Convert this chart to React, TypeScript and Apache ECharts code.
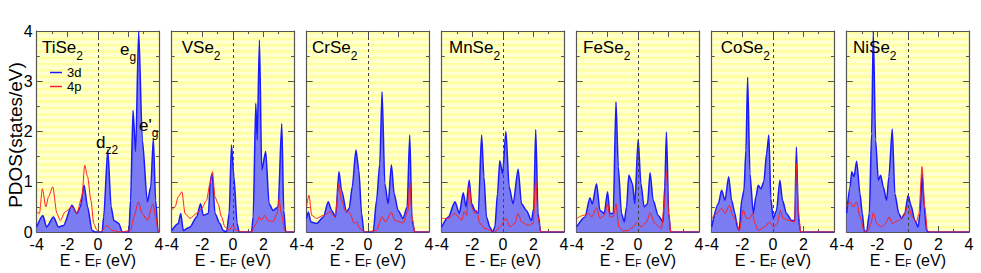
import React, { useEffect, useRef } from "react";
import * as echarts from "echarts";

const compounds = ["TiSe", "VSe", "CrSe", "MnSe", "FeSe", "CoSe", "NiSe"];
const xTicks = [-4, -2, 0, 2, 4];
const yTicks = [0, 1, 2, 3, 4];

const ti3d = [[-4,0.1],[-3.6,0.33],[-3.35,0.1],[-2.9,0.3],[-2.57,0.1],[-2.25,0.13],[-1.7,0.53],[-1.37,0.37],[-1.15,0.5],[-0.9,0.93],[-0.67,0.5],[-0.38,0.03],[-0.16,0],[0.28,0],[0.38,0.3],[0.65,1.63],[0.87,0.5],[1.05,0.23],[1.37,0.17],[1.6,0],[2.03,0],[2.14,0.63],[2.3,2.42],[2.47,1.6],[2.67,4.0],[2.91,1.83],[3.24,0.6],[3.46,0.9],[3.63,1.86],[3.78,0.63],[3.94,0],[4,0]];
const ti4p = [[-4,0.4],[-3.82,0.37],[-3.63,0.86],[-3.4,0.5],[-3.23,0.7],[-2.95,0.9],[-2.68,0.37],[-2.46,0.23],[-2.14,0.4],[-1.7,0.5],[-1.37,0.37],[-1.04,0.7],[-0.86,1.33],[-0.67,1.1],[-0.45,0.63],[-0.27,0.17],[-0.05,0.03],[0.17,0],[0.6,0.13],[0.93,0.03],[1.48,0],[2.14,0.03],[2.36,0.3],[2.65,0.6],[2.9,0.37],[3.24,0.23],[3.6,0.56],[3.78,0.3],[3.94,0.03],[4,0]];
const v3d = [[-4,0.03],[-3.57,0.17],[-3.41,0.37],[-3.24,0.03],[-2.8,0.1],[-2.37,0.3],[-2.11,0.56],[-1.93,0.33],[-1.6,0.37],[-1.46,1.06],[-1.35,1.16],[-1.17,0.37],[-0.85,0.17],[-0.63,0.03],[-0.41,0],[-0.24,0.37],[-0.09,1.73],[0.07,1.1],[0.28,0.17],[0.41,0],[1.22,0],[1.33,0.3],[1.5,2.56],[1.59,1.83],[1.74,3.82],[1.89,1.23],[2.15,1.6],[2.37,0.56],[2.63,0.43],[2.96,0.5],[3.2,2.16],[3.33,0.43],[3.46,0],[4,0]];
const v4p = [[-4,0.43],[-3.78,0.5],[-3.57,0.7],[-3.33,0.8],[-3.13,0.37],[-2.8,0.27],[-2.37,0.37],[-2.04,0.47],[-1.72,0.63],[-1.5,0.96],[-1.33,1.2],[-1.17,0.7],[-0.96,0.56],[-0.74,0.3],[-0.52,0.1],[-0.24,0.03],[-0.02,0.13],[0.24,0.03],[0.67,0],[1.22,0],[1.54,0.17],[1.72,0.3],[1.87,0.23],[2.09,0.33],[2.3,0.23],[2.63,0.2],[2.9,0.37],[3.02,0.66],[3.17,0.37],[3.39,0.03],[3.5,0],[4,0]];
const cr3d = [[-4,0.27],[-3.89,0.4],[-3.72,0.2],[-3.35,0.17],[-2.91,0.3],[-2.59,0.6],[-2.37,0.43],[-2.11,0.3],[-1.89,1.2],[-1.72,0.83],[-1.39,0.4],[-1.22,0.47],[-1.02,0.9],[-0.78,1.63],[-0.59,1.23],[-0.41,0.37],[-0.26,0],[0.35,0],[0.57,0.63],[0.78,1.36],[0.93,2.79],[1.11,0.96],[1.33,0.56],[1.54,1.34],[1.72,0.76],[1.98,0.43],[2.3,0.27],[2.57,0.5],[2.74,1.93],[2.89,0.23],[3.07,0],[4,0]];
const cr4p = [[-4,0.53],[-3.85,0.73],[-3.67,0.33],[-3.35,0.27],[-2.91,0.33],[-2.48,0.4],[-2.15,0.3],[-1.89,0.96],[-1.72,0.63],[-1.5,0.43],[-1.17,0.37],[-0.89,0.17],[-0.74,0.2],[-0.52,0.07],[-0.2,0],[0.57,0.03],[0.93,0.31],[1.15,0.2],[1.54,0.39],[1.76,0.23],[2.3,0.18],[2.63,0.43],[2.74,0.98],[2.89,0.3],[3.07,0],[4,0]];
const mn3d = [[-4,0.1],[-3.57,0.3],[-3.13,0.6],[-2.85,0.37],[-2.59,0.78],[-2.41,0.5],[-2.2,1.03],[-2.04,0.56],[-1.83,0.43],[-1.61,0.37],[-1.39,1.93],[-1.24,1.1],[-1.07,0.3],[-0.85,0.1],[-0.67,0],[-0.52,0.1],[-0.35,0.76],[-0.2,1.42],[-0.02,1.16],[0.2,2.0],[0.41,0.9],[0.67,0.56],[1.0,1.25],[1.22,0.56],[1.54,0.43],[1.87,0.23],[2.02,0.47],[2.15,2.04],[2.3,0.37],[2.48,0],[4,0]];
const mn4p = [[-4,0.27],[-3.57,0.27],[-3.13,0.37],[-2.91,0.3],[-2.7,0.23],[-2.52,0.41],[-2.37,0.33],[-2.2,0.9],[-2.04,0.5],[-1.83,0.37],[-1.72,0.43],[-1.5,0.17],[-1.17,0.07],[-0.74,0.03],[-0.52,0],[-0.2,0.1],[0.2,0.27],[0.46,0.1],[0.78,0.17],[1.0,0.37],[1.22,0.2],[1.65,0.13],[1.98,0.17],[2.15,1.03],[2.3,0.3],[2.48,0],[4,0]];
const fe3d = [[-4,0.1],[-3.46,0.3],[-3.13,0.68],[-2.98,0.56],[-2.7,0.96],[-2.48,0.43],[-2.2,0.37],[-1.98,0.8],[-1.83,0.37],[-1.61,0.37],[-1.43,2.59],[-1.28,1.3],[-1.07,0.37],[-0.89,0.2],[-0.74,0.5],[-0.59,1.13],[-0.35,0.96],[-0.2,0.56],[0.02,1.84],[0.2,0.96],[0.41,0.5],[0.63,0.56],[0.8,1.18],[1.0,0.63],[1.33,0.33],[1.65,0.2],[1.76,0.9],[1.87,1.99],[2.02,0.37],[2.15,0],[4,0]];
const fe4p = [[-4,0.27],[-3.57,0.33],[-3.24,0.37],[-3.02,0.3],[-2.7,0.48],[-2.48,0.27],[-2.2,0.33],[-1.98,0.56],[-1.83,0.3],[-1.61,0.3],[-1.43,0.56],[-1.24,0.1],[-0.96,0.02],[-0.63,0.03],[-0.3,0.1],[-0.02,0.2],[0.2,0.1],[0.57,0.2],[0.8,0.38],[1.11,0.17],[1.54,0.07],[1.72,0.5],[1.87,1.2],[2.02,0.37],[2.15,0],[4,0]];
const co3d = [[-4,0.1],[-3.57,0.56],[-3.35,0.83],[-3.13,0.63],[-2.89,1.1],[-2.7,0.63],[-2.48,0.37],[-2.33,0.1],[-2.2,0.03],[-2.04,0.63],[-1.89,0.83],[-1.76,1.63],[-1.65,3.08],[-1.5,1.16],[-1.28,0.37],[-1.11,0.7],[-0.96,0.93],[-0.78,0.86],[-0.59,1.0],[-0.41,1.56],[-0.26,1.93],[-0.13,0.66],[0.02,0.27],[0.24,0.43],[0.46,1.03],[0.63,0.63],[0.89,0.37],[1.22,0.23],[1.43,0.23],[1.54,1.69],[1.67,0.27],[1.82,0],[4,0]];
const co4p = [[-4,0.27],[-3.67,0.37],[-3.35,0.47],[-3.13,0.37],[-2.85,0.53],[-2.63,0.33],[-2.37,0.2],[-2.2,0.03],[-1.93,0.43],[-1.72,0.27],[-1.5,0.27],[-1.33,0.37],[-1.17,0.17],[-0.96,0.03],[-0.52,0.1],[-0.24,0.2],[0.07,0.1],[0.28,0.17],[0.5,0.43],[0.67,0.27],[1.0,0.23],[1.43,0.2],[1.54,1.36],[1.67,0.43],[1.82,0],[4,0]];
const ni3d = [[-4,0.37],[-3.78,0.9],[-3.67,1.2],[-3.52,1.1],[-3.35,1.41],[-3.13,0.76],[-2.98,0.37],[-2.85,0.03],[-2.7,0],[-2.52,0.37],[-2.37,1.96],[-2.26,4.0],[-2.11,1.83],[-1.93,1.03],[-1.78,1.13],[-1.61,0.9],[-1.39,0.63],[-1.24,1.1],[-1.02,2.05],[-0.85,0.76],[-0.59,0.37],[-0.41,0.27],[-0.2,0.37],[0.02,0.73],[0.2,0.53],[0.46,0.23],[0.67,0.1],[0.8,0.37],[0.93,1.16],[1.07,0.5],[1.22,0.03],[1.33,0],[4,0]];
const ni4p = [[-4,0.5],[-3.78,0.6],[-3.57,0.5],[-3.35,0.6],[-3.13,0.3],[-2.85,0],[-2.59,0.03],[-2.41,0.17],[-2.26,0.38],[-2.04,0.17],[-1.72,0.1],[-1.46,0.17],[-1.22,0.3],[-1.02,0.17],[-0.63,0.23],[-0.3,0.3],[0.02,0.53],[0.28,0.3],[0.57,0.2],[0.72,0.37],[0.93,1.3],[1.11,0.5],[1.28,0.03],[1.43,0],[4,0]];

const pdos3d = [ti3d, v3d, cr3d, mn3d, fe3d, co3d, ni3d];
const pdos4p = [ti4p, v4p, cr4p, mn4p, fe4p, co4p, ni4p];

const FONT = "Liberation Sans, Arial, sans-serif";
const AXIS_COLOR = "#555";

export default function App() {
  const ref = useRef<HTMLDivElement>(null);
  useEffect(() => {
    if (!ref.current) return;
    const chart = echarts.init(ref.current, undefined, { renderer: "svg" });
    const n = compounds.length;
    const lefts = compounds.map((_, i) => 36.7 + 135 * i);
    const grids = lefts.map((l) => ({ left: l, top: 31, width: 122.3, height: 201, containLabel: false, outerBoundsMode: "none" }));
    const xAxes: any[] = [];
    const yAxes: any[] = [];
    const series: any[] = [];
    const graphics: any[] = [];
    const titleOffsets = [5.3, 10, 5.3, 7.3, 6.3, 9, 6.3];
    for (let i = 0; i < n; i++) {
      const tick = { show: true, inside: true, length: 6, lineStyle: { color: AXIS_COLOR } };
      const minor = { show: true, splitNumber: 2, length: 3, lineStyle: { color: AXIS_COLOR } };
      xAxes.push({
        type: "value", gridIndex: i, min: xTicks[0], max: xTicks[xTicks.length - 1], interval: 2,
        position: "bottom",
        axisLine: { show: true, onZero: false, lineStyle: { color: AXIS_COLOR, width: 1.2 } },
        axisTick: tick, minorTick: minor, splitLine: { show: false },
        axisLabel: { show: true, color: "#000", fontSize: 16, lineHeight: 14, fontFamily: FONT, margin: 5, showMinLabel: true, showMaxLabel: true },
        name: "{n|E - E}{s|F}{n| (eV)}", nameLocation: "middle", nameGap: 20, nameMoveOverlap: false,
        nameTextStyle: {
          color: "#000", fontFamily: FONT,
          rich: {
            n: { fontSize: 16, lineHeight: 16, fontFamily: FONT, color: "#000" },
            s: { fontSize: 10, lineHeight: 4, verticalAlign: "bottom", fontFamily: FONT, color: "#000" },
          },
        },
      });
      xAxes.push({
        type: "value", gridIndex: i, min: -4, max: 4, interval: 2, position: "top",
        axisLine: { show: true, onZero: false, lineStyle: { color: AXIS_COLOR, width: 1.2 } },
        axisTick: tick, minorTick: minor, splitLine: { show: false }, axisLabel: { show: false },
      });
      yAxes.push({
        type: "value", gridIndex: i, min: 0, max: 4, interval: 1, position: "left",
        axisLine: { show: true, onZero: false, lineStyle: { color: AXIS_COLOR, width: 1.2 } },
        axisTick: tick, minorTick: minor, splitLine: { show: false },
        axisLabel: { show: i === 0, color: "#000", fontSize: 16, lineHeight: 10, fontFamily: FONT, margin: 4 },
      });
      yAxes.push({
        type: "value", gridIndex: i, min: 0, max: 4, interval: 1, position: "right",
        axisLine: { show: true, onZero: false, lineStyle: { color: AXIS_COLOR, width: 1.2 } },
        axisTick: tick, minorTick: minor, splitLine: { show: false }, axisLabel: { show: false },
      });
      yAxes.push({
        type: "value", gridIndex: i, min: 0, max: 4, interval: 0.0625, position: "right", offset: 0,
        axisLine: { show: false }, axisTick: { show: false }, axisLabel: { show: false },
        splitLine: { show: false },
        splitArea: { show: true, areaStyle: { color: ["#ffffd2", "#ffffa0"] } },
      });
      series.push({
        name: "3d", type: "line", xAxisIndex: 2 * i, yAxisIndex: 3 * i,
        data: pdos3d[i], showSymbol: false, symbol: "none", smooth: 0.25, smoothMonotone: "x", clip: true,
        lineStyle: { color: "#1a1aff", width: 1.5 },
        itemStyle: { color: "#1a1aff" },
        areaStyle: { color: "#7b7bf2", opacity: 1 },
        z: 3,
        markLine: {
          silent: true, symbol: "none", label: { show: false },
          lineStyle: { color: "#444", type: [3, 3], width: 1 },
          data: [{ xAxis: 0 }],
        },
      });
      series.push({
        name: "4p", type: "line", xAxisIndex: 2 * i, yAxisIndex: 3 * i,
        data: pdos4p[i], showSymbol: false, symbol: "none", smooth: 0.25, smoothMonotone: "x", clip: true,
        lineStyle: { color: "#ff2020", width: 1 },
        itemStyle: { color: "#ff2020" },
        z: 4,
      });
      graphics.push({
        type: "text", left: lefts[i] + titleOffsets[i], top: 39,
        style: {
          text: "{n|" + compounds[i] + "}{s|2}",
          rich: {
            n: { fontSize: 17, lineHeight: 28, fontFamily: FONT, fill: "#000" },
            s: { fontSize: 12, lineHeight: 14, verticalAlign: "bottom", fontFamily: FONT, fill: "#000" },
          },
        },
        z: 10,
      });
    }
    const sub = (main: string, s: string, left: number, top: number) => ({
      type: "text", left, top, z: 10,
      style: {
        text: "{n|" + main + "}{s|" + s + "}",
        rich: {
          n: { fontSize: 17, lineHeight: 26, fontFamily: FONT, fill: "#000" },
          s: { fontSize: 12, lineHeight: 13, verticalAlign: "bottom", fontFamily: FONT, fill: "#000" },
        },
      },
    });
    graphics.push(sub("e", "g", 120, 41));
    graphics.push(sub("d", "z2", 96, 134));
    graphics.push(sub("e'", "g", 139, 117));
    graphics.push({
      type: "text", x: 15, y: 135, rotation: Math.PI / 2,
      style: { text: "PDOS(states/eV)", fontSize: 19, fontFamily: FONT, fill: "#000", align: "center", verticalAlign: "middle" },
    });

    chart.setOption({
      animation: false,
      backgroundColor: "#fff",
      grid: grids,
      xAxis: xAxes,
      yAxis: yAxes,
      series,
      legend: {
        data: ["3d", "4p"], orient: "vertical", left: 45, top: 61, itemGap: 1,
        icon: "rect", itemWidth: 12, itemHeight: 1.5, selectedMode: false,
        textStyle: { fontSize: 13, fontFamily: FONT, color: "#000" },
      },
      graphic: graphics,
    });
    return () => chart.dispose();
  }, []);
  return <div ref={ref} style={{ position: "fixed", left: 0, top: 0, width: 981, height: 273 }} />;
}
